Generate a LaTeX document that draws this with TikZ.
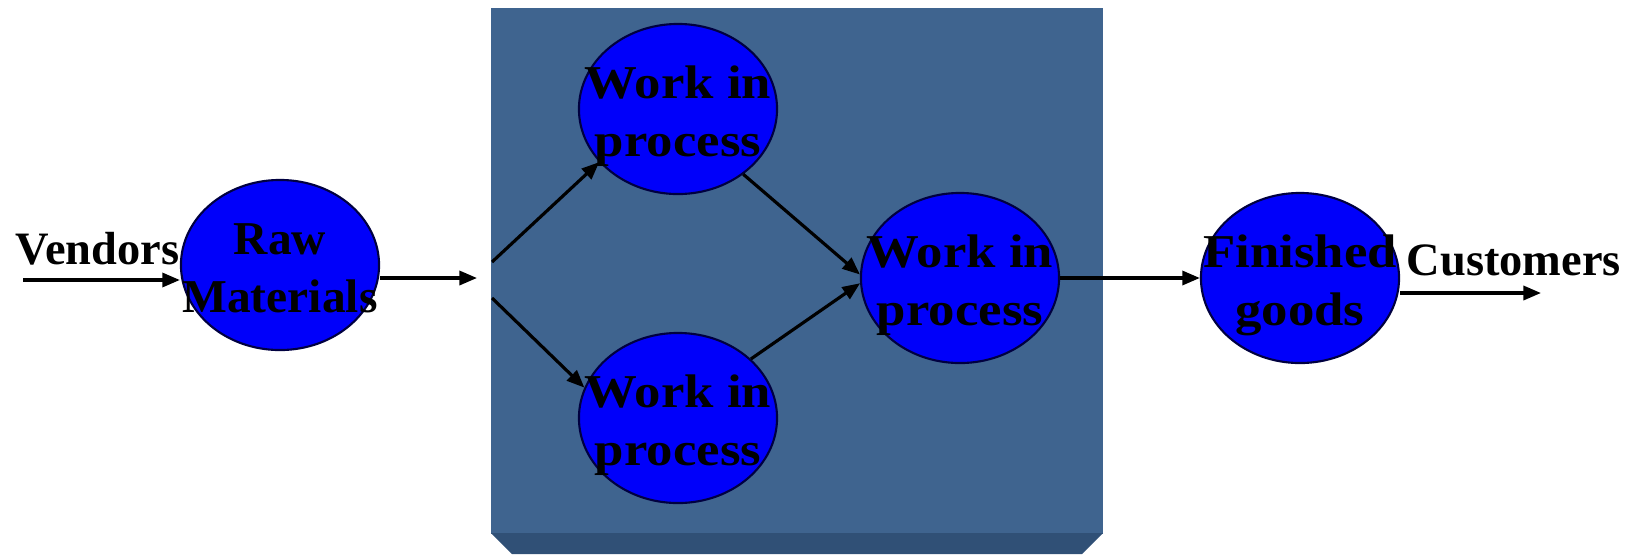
\documentclass[tikz,border=0pt]{standalone}
\usepackage{fontspec}
\setmainfont{Liberation Serif}
\usetikzlibrary{arrows.meta,positioning,shapes.geometric}
\definecolor{plantface}{RGB}{63,100,143}
\definecolor{plantedge}{RGB}{48,80,118}
\definecolor{stockblue}{RGB}{0,0,250}

\begin{document}
\begin{tikzpicture}[
    x=0.01cm, y=-0.01cm,
    stock/.style={ellipse, draw=blue!25!black, line width=0.6pt, fill=stockblue, minimum width=1.98cm, minimum height=1.7cm, inner sep=0pt},
    inlbl/.style={font=\fontsize{13.4}{16.5}\selectfont\bfseries, align=center, text=black, inner sep=0pt, yshift=-2pt, transform shape, xscale=1.12},
    lbl/.style={font=\fontsize{13.2}{17}\selectfont\bfseries, inner sep=0pt},
    arrow/.style={-{Triangle[length=5pt, width=4pt]}, line width=0.9pt}
]
\useasboundingbox (0,0) rectangle (1641,554);

% Plant block
\fill[plantface] (491,8) rectangle (1103,534);
\fill[plantedge] (491,533) -- (1103,533) -- (1082,554) -- (512,554) -- cycle;

% Stocks
\node[stock, label={[inlbl, xscale=0.9, yshift=1pt]center:Raw\\Materials}] (raw) at (280,265) {};
\node[stock, label={[inlbl]center:Work in\\process}] (wipA) at (678,109) {};
\node[stock, label={[inlbl]center:Work in\\process}] (wipB) at (678,418) {};
\node[stock, label={[inlbl]center:Work in\\process}] (wipC) at (960,278) {};
\node[stock, label={[inlbl]center:Finished\\goods}] (fin) at (1300,278) {};

% Ends
\node[lbl, anchor=base east] (vendors) at (180,264) {Vendors};
\node[lbl, anchor=base west] (customers) at (1406,275) {Customers};
\coordinate (vin) at (23,280);
\coordinate (rawout) at (477,278);
\coordinate (splitA) at (492,262);
\coordinate (splitB) at (492,298);
\coordinate (cout) at (1541,293);

% Flow
\draw[arrow] (vin) -- (vin -| raw.west);
\draw[arrow] (rawout -| raw.east) -- (rawout);
\draw[arrow] (splitA) -- (wipA.214);
\draw[arrow] (splitB) -- (wipB.162);
\draw[arrow] (wipA.-45) -- (wipC.178);
\draw[arrow] (wipB.39) -- (wipC.183);
\draw[arrow] (wipC.east) -- (fin.west);
\draw[arrow] (cout -| fin.east) -- (cout);

\end{tikzpicture}
\end{document}
